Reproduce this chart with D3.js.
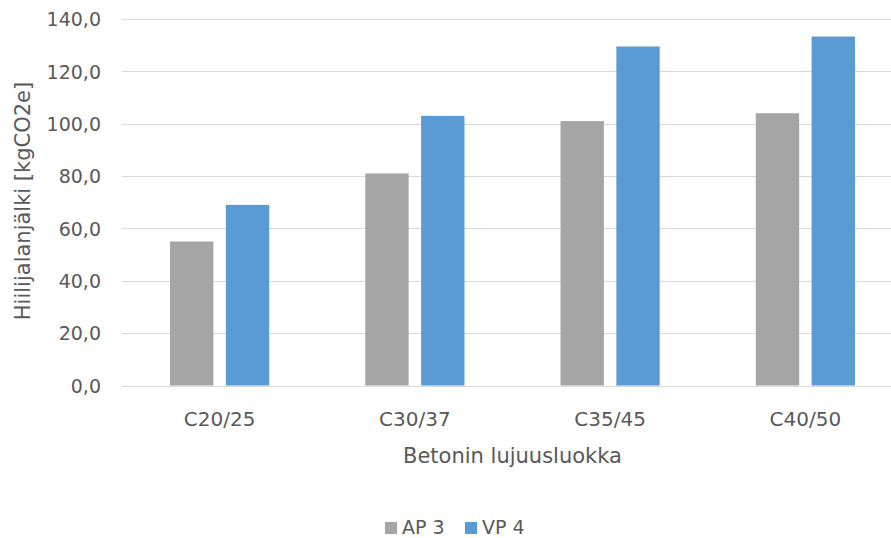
<!DOCTYPE html>
<html>
<head>
<meta charset="utf-8">
<script src="https://cdn.jsdelivr.net/npm/d3@7"></script>
<style>
  html, body { margin: 0; padding: 0; background: #fff; }
  svg { display: block; }
  text { font-family: "DejaVu Sans", sans-serif; fill: #595959; }
</style>
</head>
<body>
<svg id="chart" width="891" height="538"></svg>
<script>
const categories = ["C20/25", "C30/37", "C35/45", "C40/50"];
const seriesNames = ["AP 3", "VP 4"];
const ap3Values = [55.0, 81.0, 101.0, 104.0];
const vp4Values = [69.0, 103.0, 129.5, 133.3];
const yTicks = [0, 20, 40, 60, 80, 100, 120, 140];
const seriesColors = ["#A5A5A5", "#5B9BD5"];
const xTitle = "Betonin lujuusluokka";
const yTitle = "Hiilijalanjälki [kgCO2e]";

const seriesValues = [ap3Values, vp4Values];
const data = categories.map((c, i) => ({
  category: c,
  values: seriesNames.map((s, j) => ({ series: s, value: seriesValues[j][i], color: seriesColors[j] }))
}));

const svg = d3.select("#chart");
const W = 891, H = 538;
const plot = { left: 122, right: 903, top: 19, bottom: 385.5 };

const x0 = d3.scaleBand().domain(categories).range([plot.left, plot.right]).paddingInner(0).paddingOuter(0);
const bw = x0.bandwidth();
const x1 = d3.scaleBand().domain(seriesNames).range([bw * 0.246, bw * 0.754]).paddingInner(0.223).paddingOuter(0);
const y = d3.scaleLinear().domain([0, 140]).range([plot.bottom, plot.top]);

// gridlines
svg.append("g").selectAll("line").data(yTicks).join("line")
  .attr("x1", plot.left).attr("x2", W)
  .attr("y1", d => Math.round(y(d)) + 0.5).attr("y2", d => Math.round(y(d)) + 0.5)
  .attr("stroke", "#D9D9D9").attr("stroke-width", 1);

// y tick labels
const yAxis = d3.axisLeft(y).tickValues(yTicks).tickSize(0).tickPadding(0)
  .tickFormat(d => d3.format(".1f")(d).replace(".", ","));
const gy = svg.append("g").attr("transform", `translate(101,0)`).call(yAxis);
gy.select(".domain").remove();
gy.selectAll("text").attr("font-size", 19).attr("font-family", "DejaVu Sans").attr("fill", "#595959").attr("dy", "0.36em");

// bars
const groups = svg.append("g").selectAll("g").data(data).join("g")
  .attr("transform", d => `translate(${x0(d.category)},0)`);
groups.selectAll("rect").data(d => d.values).join("rect")
  .attr("x", d => x1(d.series))
  .attr("width", x1.bandwidth())
  .attr("y", d => y(d.value))
  .attr("height", d => y(0) - y(d.value))
  .attr("fill", d => d.color);

// x tick labels
const xAxis = d3.axisBottom(x0).tickSize(0).tickPadding(0);
const gx = svg.append("g").attr("transform", `translate(0,${plot.bottom})`).call(xAxis);
gx.select(".domain").remove();
gx.selectAll("text").attr("font-size", 20).attr("font-family", "DejaVu Sans").attr("fill", "#595959")
  .attr("dy", null).attr("y", 40.5);

// axis titles
svg.append("text").attr("x", (plot.left + plot.right) / 2).attr("y", 463)
  .attr("text-anchor", "middle").attr("font-size", 21).text(xTitle);
svg.append("text").attr("transform", "translate(30,201) rotate(-90)")
  .attr("text-anchor", "middle").attr("font-size", 21).text(yTitle);

// legend
const legendItems = [
  { name: seriesNames[0], color: seriesColors[0], sx: 385, tx: 402 },
  { name: seriesNames[1], color: seriesColors[1], sx: 465, tx: 482 }
];
const lg = svg.append("g");
lg.selectAll("rect").data(legendItems).join("rect")
  .attr("x", d => d.sx).attr("y", 522).attr("width", 12).attr("height", 12)
  .attr("fill", d => d.color);
lg.selectAll("text").data(legendItems).join("text")
  .attr("x", d => d.tx).attr("y", 533.5).attr("font-size", 19).text(d => d.name);
</script>
</body>
</html>
